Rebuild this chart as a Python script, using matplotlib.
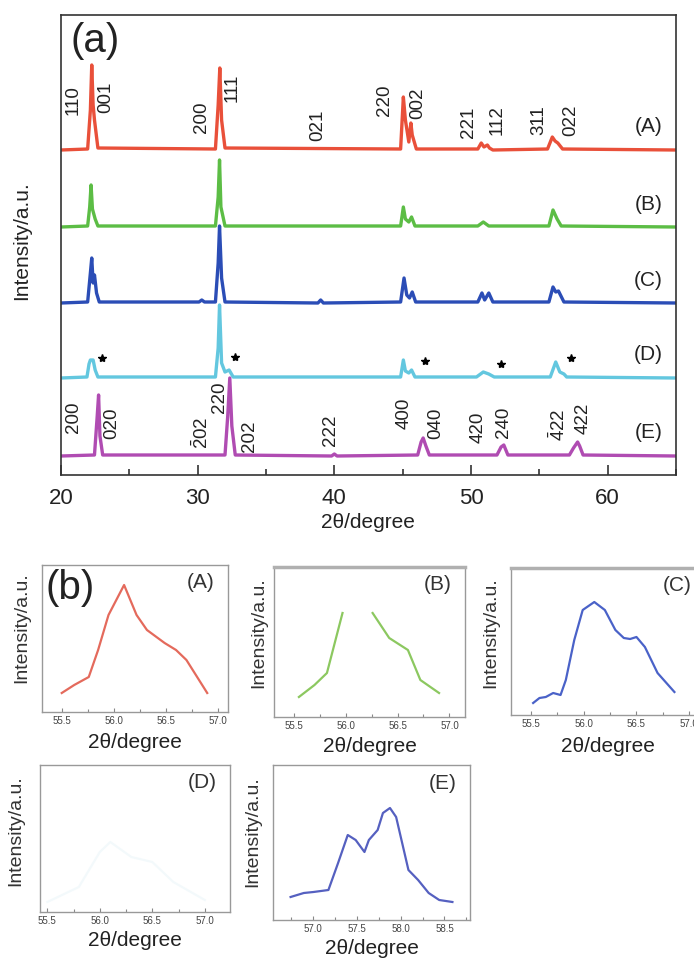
import matplotlib
matplotlib.use("Agg")
import matplotlib.pyplot as plt
from matplotlib.ticker import MultipleLocator
import numpy as np

plt.rcParams['font.family'] = ['Liberation Sans', 'DejaVu Sans']
plt.rcParams['mathtext.fontset'] = 'custom'
plt.rcParams['mathtext.rm'] = 'Liberation Sans'
plt.rcParams['mathtext.it'] = 'Liberation Sans:italic'

# ---------------- panel (a) data: 2theta vs intensity (a.u.) ----------------
A_x = [20, 21.95, 22.15, 22.25, 22.35, 22.45, 22.7, 31.3, 31.5, 31.62, 31.75, 32.0,
       44.85, 45.05, 45.2, 45.45, 45.6, 45.7, 46.0, 50.5, 50.75, 50.95, 51.2, 51.35, 51.6,
       55.6, 55.95, 56.15, 56.35, 56.7, 65]
A_y = [0, 1, 40, 85, 45, 30, 2, 1, 45, 82, 30, 2,
       1, 53, 30, 8, 27, 15, 1, 1, 7, 3, 5, 2, 0,
       1, 13, 9, 7, 1, 0]

B_x = [20, 21.95, 22.1, 22.2, 22.3, 22.5, 22.7, 31.3, 31.5, 31.6, 31.7, 32.0,
       44.85, 45.05, 45.2, 45.45, 45.65, 45.9, 50.5, 50.9, 51.3, 55.7, 56.0, 56.3, 56.6, 65]
B_y = [0, 1, 20, 42, 18, 8, 1, 1, 30, 67, 20, 1,
       1, 20, 8, 5, 10, 1, 1, 5, 1, 1, 17, 8, 1, 0]

C_x = [20, 21.95, 22.15, 22.25, 22.35, 22.45, 22.6, 22.8, 30.1, 30.3, 30.5,
       31.3, 31.5, 31.6, 31.75, 32.0, 38.8, 39.0, 39.2,
       44.85, 45.1, 45.3, 45.5, 45.7, 45.95, 50.5, 50.8, 51.0, 51.3, 51.6,
       55.7, 56.0, 56.2, 56.4, 56.8, 65]
C_y = [0, 1, 30, 45, 20, 28, 10, 1, 1, 3, 1,
       1, 40, 77, 25, 1, 0, 3, 0,
       1, 25, 8, 5, 11, 1, 1, 10, 3, 10, 1,
       1, 16, 11, 12, 1, 0]

D_x = [20, 21.9, 22.05, 22.15, 22.35, 22.5, 22.7, 31.3, 31.5, 31.6, 31.75, 32.0, 32.3, 32.6,
       44.85, 45.05, 45.2, 45.45, 45.65, 45.9, 50.4, 50.9, 51.3, 51.7,
       55.8, 56.2, 56.5, 56.8, 57.0, 65]
D_y = [0, 1, 14, 18, 18, 8, 1, 1, 30, 73, 15, 6, 8, 1,
       1, 18, 7, 5, 8, 1, 1, 6, 4, 1,
       1, 16, 6, 4, 1, 0]

E_x = [20, 22.45, 22.65, 22.75, 22.85, 23.05, 32.0, 32.2, 32.35, 32.5, 32.75,
       39.8, 40.0, 40.2, 46.1, 46.35, 46.5, 46.7, 46.95, 51.9, 52.2, 52.4, 52.7,
       57.2, 57.5, 57.8, 57.95, 58.2, 65]
E_y = [0, 1, 40, 61, 20, 1, 1, 40, 78, 30, 1,
       0, 2, 0, 1, 14, 18, 10, 1, 1, 9, 11, 1,
       1, 8, 14, 10, 1, 0]

series_names = ['(A)', '(B)', '(C)', '(D)', '(E)']
series_offsets = [325, 248, 172, 97, 19]

star_x = [23.0, 32.7, 46.6, 52.2, 57.3]
star_y = [117, 118, 114, 111, 117]

hkl_A = ['110', '001', '200', '111', '021', '220', '002', '221', '112', '311', '022']
hkl_A_x = [20.9, 23.3, 30.3, 32.5, 38.8, 43.7, 46.1, 49.8, 51.9, 55.0, 57.3]
hkl_A_y = [375, 378, 358, 387, 350, 375, 372, 353, 355, 355, 355]

hkl_E = ['200', '020', r'$\mathrm{\bar{2}02}$', '220', '202', '222', '400', '040', '420', '240',
         r'$\mathrm{\bar{4}22}$', '422']
hkl_E_x = [20.9, 23.7, 30.3, 31.6, 33.8, 39.7, 45.1, 47.4, 50.5, 52.4, 56.4, 58.2]
hkl_E_y = [58, 52, 42, 78, 39, 45, 62, 52, 48, 53, 50, 57]

# ---------------- panel (b) data: zoom on the ~56-58 degree peaks ----------------
bA_x = [55.5, 55.62, 55.76, 55.85, 55.95, 56.1, 56.22, 56.32, 56.49, 56.6, 56.7, 56.9]
bA_y = [19, 27, 35, 62, 97, 127, 97, 82, 69, 62, 52, 19]

bB_x = [55.55, 55.7, 55.82, 55.97, np.nan, 56.26, 56.42, 56.6, 56.72, 56.9]
bB_y = [20, 32, 44, 104, np.nan, 104, 79, 67, 37, 24]

bC_x = [55.52, 55.58, 55.64, 55.71, 55.78, 55.83, 55.91, 55.99, 56.1, 56.2, 56.3, 56.38,
        56.44, 56.5, 56.58, 56.7, 56.86]
bC_y = [12, 17, 18, 22, 20, 35, 75, 105, 113, 105, 85, 77, 76, 78, 68, 42, 23]

bD_x = [55.5, 55.8, 56.0, 56.1, 56.3, 56.5, 56.7, 57.0]
bD_y = [10, 25, 60, 70, 55, 50, 30, 12]

bE_x = [56.75, 56.9, 57.01, 57.18, 57.29, 57.4, 57.49, 57.59, 57.64, 57.74, 57.8, 57.88,
        57.95, 58.09, 58.2, 58.32, 58.44, 58.59]
bE_y = [23, 27, 28, 30, 57, 85, 80, 68, 80, 90, 107, 112, 103, 50, 40, 27, 20, 18]

colors = ['#e9503a', '#5cbd45', '#2b4db6', '#63c7df', '#b04cb2']

W, H = 694, 960
fig = plt.figure(figsize=(W / 100, H / 100), dpi=100)


def rect(x0, y0, x1, y1):
    return [x0 / W, 1 - y1 / H, (x1 - x0) / W, (y1 - y0) / H]


# ---------------- panel (a) ----------------
ax = fig.add_axes(rect(61, 15, 676, 475))
for xs, ys, off, c in zip([A_x, B_x, C_x, D_x, E_x], [A_y, B_y, C_y, D_y, E_y],
                          series_offsets, colors):
    ax.plot(xs, np.array(ys) + off, color=c, lw=2.4, solid_joinstyle='round')
for name, off in zip(series_names, series_offsets):
    ax.text(63.0, off + 23, name, fontsize=15, ha='center', va='center', color='#222')
ax.plot(star_x, star_y, ls='none', marker='*', ms=6, color='black')
for t, x, y in zip(hkl_A, hkl_A_x, hkl_A_y):
    ax.text(x, y, t, rotation=90, fontsize=13.5, ha='center', va='center', color='#222')
for t, x, y in zip(hkl_E, hkl_E_x, hkl_E_y):
    ax.text(x, y, t, rotation=90, fontsize=13.5, ha='center', va='center', color='#222')
ax.text(0.015, 0.985, '(a)', transform=ax.transAxes, fontsize=29, ha='left', va='top',
        color='#222')
ax.set_xlim(20, 65)
ax.set_ylim(0, 460)
ax.xaxis.set_major_locator(MultipleLocator(10))
ax.xaxis.set_minor_locator(MultipleLocator(5))
ax.tick_params(axis='x', which='major', direction='in', length=7, width=1.2,
               labelsize=16, pad=9, colors='#333', labelcolor='#222')
ax.tick_params(axis='x', which='minor', direction='in', length=4, width=1.2, colors='#333')
ax.set_yticks([])
for s in ax.spines.values():
    s.set_color('#333')
    s.set_linewidth(1.2)
fig.text(22 / W, 1 - 241 / H, 'Intensity/a.u.', rotation=90, fontsize=15,
         ha='center', va='center', color='#222')
fig.text(368 / W, 1 - 523 / H, '2θ/degree', fontsize=15, ha='center', va='center',
         color='#222')

# ---------------- panel (b) ----------------
sub = [
    dict(r=(42, 565, 228, 712), x=bA_x, y=bA_y, c='#e46a5c', lim=(55.31, 57.1), yl=147,
         lab='(A)', ylx=22, yly=628, xly=743, top_thick=False, alpha=1.0),
    dict(r=(274, 567, 465, 717), x=bB_x, y=bB_y, c='#8cc860', lim=(55.31, 57.15), yl=150,
         lab='(B)', ylx=259, yly=633, xly=747, top_thick=True, alpha=1.0),
    dict(r=(511, 568, 705, 715), x=bC_x, y=bC_y, c='#4a62c8', lim=(55.31, 57.15), yl=147,
         lab='(C)', ylx=491, yly=633, xly=747, top_thick=True, alpha=1.0),
    dict(r=(40, 765, 230, 912), x=bD_x, y=bD_y, c='#eef7fa', lim=(55.43, 57.24), yl=147,
         lab='(D)', ylx=16, yly=831, xly=940, top_thick=False, alpha=0.7),
    dict(r=(273, 765, 470, 920), x=bE_x, y=bE_y, c='#5560c0', lim=(56.55, 58.79), yl=155,
         lab='(E)', ylx=253, yly=832, xly=948, top_thick=False, alpha=1.0),
]
for i, d in enumerate(sub):
    x0, y0, x1, y1 = d['r']
    bx = fig.add_axes(rect(x0, y0, x1, y1))
    bx.plot(d['x'], d['y'], color=d['c'], lw=1.6, alpha=d['alpha'])
    bx.set_xlim(*d['lim'])
    bx.set_ylim(0, d['yl'])
    bx.set_yticks([])
    bx.xaxis.set_major_locator(MultipleLocator(0.5))
    bx.xaxis.set_minor_locator(MultipleLocator(0.25))
    bx.xaxis.set_major_formatter(plt.FormatStrFormatter('%.1f'))
    bx.tick_params(axis='x', which='major', direction='in', length=3, width=0.8,
                   labelsize=7, colors='#888', labelcolor='#444', pad=3)
    bx.tick_params(axis='x', which='minor', direction='in', length=2, width=0.8,
                   colors='#888')
    for s in bx.spines.values():
        s.set_color('#999')
        s.set_linewidth(1.0)
    if d['top_thick']:
        bx.spines['top'].set_linewidth(2.5)
        bx.spines['top'].set_color('#b0b0b0')
    bx.text(0.93, 0.88, d['lab'], transform=bx.transAxes, fontsize=15, ha='right',
            va='center', color='#333')
    if i == 0:
        bx.text(0.02, 0.97, '(b)', transform=bx.transAxes, fontsize=29, ha='left',
                va='top', color='#222')
    fig.text(d['ylx'] / W, 1 - d['yly'] / H, 'Intensity/a.u.', rotation=90, fontsize=14,
             ha='center', va='center', color='#333')
    fig.text(((x0 + x1) / 2) / W, 1 - d['xly'] / H, '2θ/degree', fontsize=15,
             ha='center', va='center', color='#222')

fig.savefig('out.png', dpi=100, facecolor='white')
